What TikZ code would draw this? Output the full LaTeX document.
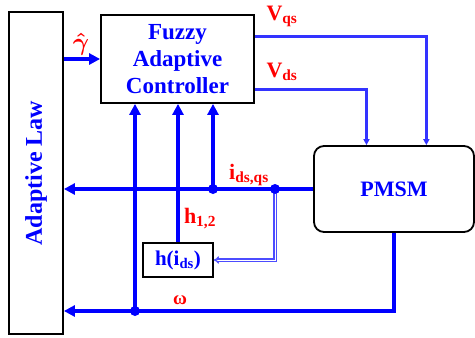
\documentclass[tikz,border=0pt]{standalone}
\usepackage{fontspec}
\setmainfont{Liberation Serif}
\usepackage{amsmath,amssymb}
\usetikzlibrary{shapes,arrows.meta,positioning,calc}

\begin{document}
\begin{tikzpicture}[x=1pt, y=-1pt,
  block/.style={rectangle, draw, line width=1.8pt, align=center, text=blue, font=\fontsize{23}{27}\selectfont\bfseries},
  sig/.style={draw=blue, line width=3.4pt, -{Triangle[length=11pt,width=11pt]}},
  feed/.style={draw=blue!80, line width=3.2pt, -{Triangle[length=6pt,width=6pt]}},
  lbl/.style={text=red, font=\fontsize{22}{24}\selectfont\bfseries},
  dot/.style={circle, fill=blue, inner sep=0pt, minimum size=10pt}
]
  \useasboundingbox (0,0) rectangle (475,338);

  % blocks
  \node[block, rotate=90, minimum width=322pt, minimum height=54pt, font=\fontsize{24}{26}\selectfont\bfseries] (law) at (36,173) {Adaptive Law};
  \node[block, minimum width=153pt, minimum height=88pt] (fuzzy) at (177.5,59) {Fuzzy\\Adaptive\\Controller};
  \node[block, minimum width=160pt, minimum height=86pt, rounded corners=10pt, font=\fontsize{22}{24}\selectfont\bfseries] (pmsm) at (394,189) {PMSM};
  \node[block, minimum width=70pt, minimum height=34pt, inner sep=1pt, font=\fontsize{21}{22}\selectfont\bfseries] (hbox) at (178,260) {h(i\textsubscript{ds})};

  % junctions
  \coordinate (jid) at (213,189);
  \coordinate (jh) at (275,189);
  \coordinate (jw) at (135,311);

  % connectors
  \draw[sig] (law.south |- fuzzy.west) -- (fuzzy.west);
  \draw[feed] ($(fuzzy.north east)!0.25!(fuzzy.south east)$) -| ($(pmsm.north west)!0.7!(pmsm.north east)$);
  \draw[feed] ($(fuzzy.north east)!0.84!(fuzzy.south east)$) -| ($(pmsm.north west)!0.33!(pmsm.north east)$);
  \draw[sig] (pmsm.west) -- (law.south |- pmsm.west);
  \draw[sig] (pmsm.south) |- (law.south |- jw);
  \draw[sig] (jid) -- (jid |- fuzzy.south);
  \draw[sig] (hbox.north) -- (hbox.north |- fuzzy.south);
  \draw[sig] (jw) -- (jw |- fuzzy.south);
  \draw[draw=blue!70, double=white, double distance=1pt, line width=1.3pt, -Implies] (jh) |- (hbox.east);
  \node[dot] at (jid) {};
  \node[dot] at (jh) {};
  \node[dot] at (jw) {};

  % labels
  \node[lbl, font=\fontsize{27}{28}\selectfont] (gam) at (81,44) {$\boldsymbol{\hat{\gamma}}$};
  \node[lbl] (vq) at (282,16) {V\textsubscript{qs}};
  \node[lbl] (vd) at (282,72) {V\textsubscript{ds}};
  \node[lbl] (iq) at (249,175) {i\textsubscript{ds,qs}};
  \node[lbl] (hl) at (200,219) {h\textsubscript{1,2}};
  \node[lbl, font=\fontsize{19}{20}\selectfont\bfseries] (om) at (180,300) {ω};
\end{tikzpicture}
\end{document}
